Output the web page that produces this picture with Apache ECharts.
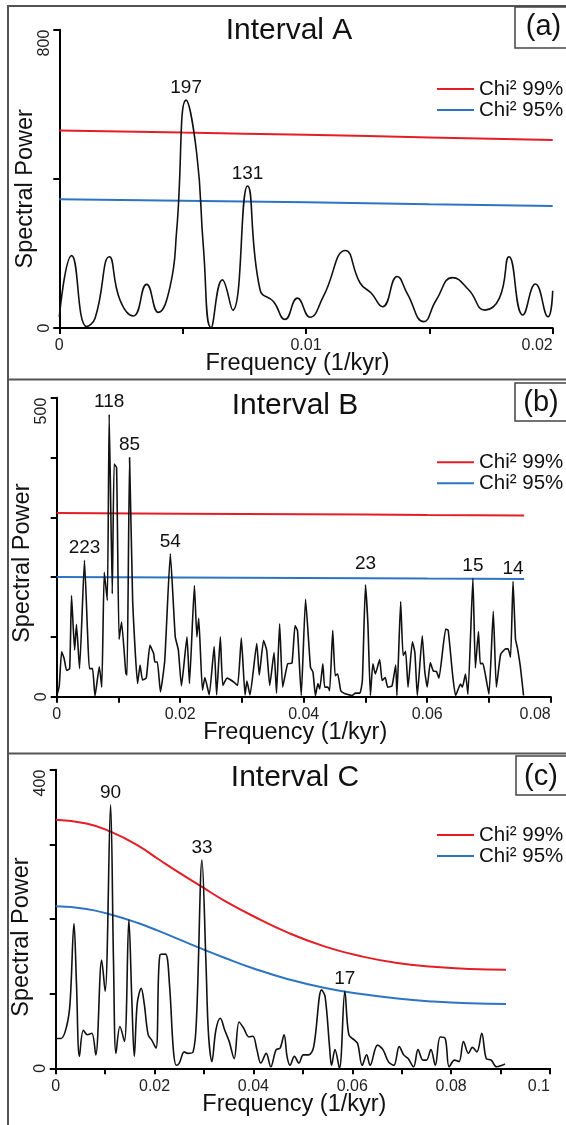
<!DOCTYPE html>
<html><head><meta charset="utf-8">
<script src="https://cdn.jsdelivr.net/npm/echarts@6/dist/echarts.min.js"></script>
<style>html,body{margin:0;padding:0;background:#fff}#c{width:566px;height:1125px}</style>
</head><body><div id="c"></div>
<script>
// ---------- DATA ----------
const titles = ['Interval A', 'Interval B', 'Interval C'];
const panelTags = ['(a)', '(b)', '(c)'];
const legendNames = ['Chi\u00b2 99%', 'Chi\u00b2 95%'];
const xName = 'Frequency (1/kyr)';
const yName = 'Spectral Power';

// Panel A spectrum
const freqA = [0,0.0005,0.00111,0.00145,0.00203,0.00246,0.003,0.00354,0.00401,0.00449,0.00476,0.00514,0.00557,0.00584,0.00615,0.00661,0.00703,0.00763,0.00814,0.00868,0.00915,0.00965,0.01016,0.0107,0.0116,0.0122,0.01265,0.0131,0.0137,0.0141,0.01477,0.01528,0.01594,0.0166,0.01725,0.01784,0.01823,0.01879,0.0193,0.01981,0.02];
const powA  = [30,194,4,26,191,75,32,117,42,111,263,611,468,218,1,129,48,381,102,71,23,80,29,84,208,120,93,57,138,93,17,75,135,102,48,80,191,35,118,30,100];
const chiFreqA = [0, 0.005, 0.01, 0.015, 0.02];
const chi99A = [530, 524, 518, 511, 504];
const chi95A = [345, 341, 337, 332, 327];
const peakFreqA = [0.00514, 0.00763];
const peakTextA = ['197', '131'];

// Panel B spectrum
const freqB = [0,0.0004,0.0008,0.0012,0.0016,0.0021,0.0024,0.0029,0.0032,0.0037,0.0045,0.005,0.0053,0.0058,0.0062,0.0069,0.0073,0.0077,0.0082,0.0085,0.009,0.0093,0.0097,0.0101,0.0105,0.0112,0.0114,0.0118,0.0123,0.0131,0.0135,0.0139,0.0145,0.0151,0.0157,0.0159,0.0163,0.0168,0.0175,0.0184,0.0192,0.0197,0.0202,0.0211,0.0215,0.0223,0.0227,0.023,0.0236,0.024,0.0247,0.0255,0.0259,0.0265,0.0269,0.0276,0.0286,0.0293,0.0299,0.0305,0.0308,0.0313,0.0324,0.0328,0.0335,0.034,0.0345,0.0352,0.0356,0.0361,0.0366,0.0374,0.0381,0.0386,0.039,0.0396,0.0403,0.0411,0.0415,0.0419,0.0423,0.0426,0.0431,0.0434,0.0439,0.0442,0.0447,0.0451,0.0455,0.046,0.0465,0.047,0.0478,0.0484,0.0491,0.0495,0.05,0.0504,0.0508,0.0512,0.0516,0.0523,0.0527,0.0532,0.0536,0.0543,0.0549,0.0551,0.0557,0.0561,0.0565,0.0569,0.0576,0.058,0.0584,0.0592,0.0596,0.06,0.0605,0.061,0.0615,0.0619,0.063,0.0634,0.0641,0.0646,0.0654,0.0657,0.0662,0.0666,0.0674,0.0678,0.0683,0.0686,0.069,0.0694,0.07,0.0707,0.0712,0.0719,0.0727,0.0731,0.0735,0.0739,0.0743,0.0746,0.0751,0.0756];
const powB  = [1,17,75,64,44,47,169,78,121,47,228,106,47,47,1,50,16,208,161,472,172,389,383,96,125,39,36,400,161,22,53,28,31,86,72,58,58,8,61,239,100,78,18,100,22,186,100,131,11,32,3,84,3,100,19,31,25,19,98,3,26,3,89,36,94,78,19,74,6,122,16,55,56,119,110,2,163,49,41,2,22,13,55,16,16,10,111,35,38,10,6,4,2,6,6,27,187,121,2,55,38,62,27,32,16,18,53,2,159,69,76,16,92,74,2,102,43,16,57,43,42,31,113,111,38,2,21,16,38,4,198,48,109,55,56,38,4,143,16,71,80,80,66,193,96,82,49,2];
const chiFreqB = [0, 0.02, 0.04, 0.06, 0.0757];
const chi99B = [307, 306, 305, 304, 303];
const chi95B = [200, 199.5, 198.5, 197.5, 197];
const peakFreqB = [0.0045, 0.0085, 0.0118, 0.0184, 0.05, 0.0674, 0.0739];
const peakTextB = ['223', '118', '85', '54', '23', '15', '14'];

// Panel C spectrum
const freqC = [0,0.0011,0.0022,0.0029,0.0037,0.0042,0.0048,0.0056,0.0064,0.0073,0.0081,0.0093,0.01,0.0111,0.0117,0.0122,0.013,0.0139,0.0148,0.0154,0.0159,0.0165,0.0173,0.0179,0.0187,0.0194,0.0203,0.0211,0.0222,0.023,0.0238,0.0244,0.025,0.026,0.0267,0.0278,0.0285,0.0296,0.0304,0.0309,0.0316,0.0324,0.0333,0.0342,0.0351,0.0361,0.0371,0.038,0.0391,0.0399,0.0407,0.0415,0.0426,0.0435,0.0446,0.0454,0.0462,0.0468,0.0474,0.0483,0.0492,0.0501,0.0512,0.0522,0.0538,0.0545,0.0554,0.0558,0.0565,0.0574,0.0585,0.0593,0.0604,0.0611,0.062,0.0629,0.0636,0.0651,0.0662,0.0673,0.0684,0.0695,0.0704,0.0713,0.0724,0.0733,0.0743,0.075,0.0759,0.0768,0.0778,0.0788,0.0796,0.0807,0.0816,0.0825,0.0835,0.0843,0.0852,0.0862,0.0871,0.0881,0.0892,0.0903,0.0909];
const powC  = [40,40,56,87,194,114,16,51,45,47,18,145,103,353,141,20,56,36,199,92,16,87,107,87,45,38,27,152,153,114,25,4,7,22,20,22,69,279,141,47,9,51,67,51,36,13,62,54,42,43,25,7,20,2,25,27,45,16,4,16,7,18,18,29,105,96,29,4,25,0,103,45,38,33,4,18,4,31,25,9,4,29,18,13,2,25,11,11,25,4,42,40,2,11,9,36,20,28,22,47,13,11,2,4,6];
const chiFreqC = [0,0.0062,0.0111,0.0165,0.0208,0.0252,0.0296,0.034,0.0399,0.0472,0.0545,0.0618,0.0691,0.0764,0.0838,0.0911];
const chi99C = [333,328,317,299,280,261,243,225,204,181,163,150,141,136,133,132];
const chi95C = [217,213.5,206,195,184,172,160,148.5,134,119,107.5,99.5,93.5,89.5,87,86];
const peakFreqC = [0.0111, 0.0296, 0.0585];
const peakTextC = ['90', '33', '17'];

// Axes
const xMax = [0.02, 0.08, 0.1];
const xStep = [0.005, 0.01, 0.01];
const xLabelVals = [[0, 0.01, 0.02], [0, 0.02, 0.04, 0.06, 0.08], [0, 0.02, 0.04, 0.06, 0.08, 0.1]];
const yMax = [800, 500, 400];
const yStep = [400, 100, 100];
const yLabelVals = [[0, 800], [0, 500], [0, 400]];

// ---------- STYLE / LAYOUT ----------
const FONT = "'Liberation Sans', Arial, Helvetica, sans-serif";
const grids = [
  {left: 59.3, top: 29.7, width: 493.4, height: 298.3},
  {left: 56.7, top: 397.7, width: 494, height: 299},
  {left: 55.7, top: 769.7, width: 494.3, height: 298.6}
];
const titlePos = [[289, 31], [295, 406], [295, 777.5]];
const tagPos = [[543.5, 27], [541, 403], [541, 776.5]];
const tagBox = [[515, 7, 70, 41], [515, 383, 70, 38], [516, 756, 70, 39]];
const legendTop = [78.5, 451.8, 824.5];
const yNamePad = [20, 32, 36];
const labelOffsets = {'23': [0, -9]};
const RED = '#e41e26', BLUE = '#2e74c2', INK = '#111';

const spectra = [[freqA, powA, peakFreqA, peakTextA], [freqB, powB, peakFreqB, peakTextB], [freqC, powC, peakFreqC, peakTextC]];
const chis = [[chiFreqA, chi99A, chi95A], [chiFreqB, chi99B, chi95B], [chiFreqC, chi99C, chi95C]];
const smoothness = [0.5, 0.15, 0.35];

function near(a, b) { return Math.abs(a - b) < 1e-9; }

const option = {
  animation: false,
  backgroundColor: '#fff',
  textStyle: {fontFamily: FONT},
  grid: grids.map(g => Object.assign({outerBoundsMode: 'none', containLabel: false}, g)),
  title: [],
  legend: [],
  xAxis: [],
  yAxis: [],
  series: [],
  graphic: []
};

for (let i = 0; i < 3; i++) {
  option.title.push({
    text: titles[i], left: titlePos[i][0], top: titlePos[i][1], textAlign: 'center', textVerticalAlign: 'middle', padding: 0,
    textStyle: {fontFamily: FONT, fontSize: 30, fontWeight: 'normal', color: INK}
  });
  option.title.push({
    text: panelTags[i], left: tagPos[i][0], top: tagPos[i][1], textAlign: 'center', textVerticalAlign: 'middle', padding: 0, z: 10,
    textStyle: {fontFamily: FONT, fontSize: 29, fontWeight: 'normal', color: INK}
  });
  option.legend.push({
    data: legendNames, orient: 'vertical', left: 437, top: legendTop[i], padding: 0, itemGap: 0,
    itemWidth: 37, itemHeight: 2, icon: 'rect', selectedMode: false,
    textStyle: {fontFamily: FONT, fontSize: 20.5, lineHeight: 21, color: INK}
  });
  const xl = xLabelVals[i], yl = yLabelVals[i];
  option.xAxis.push({
    type: 'value', gridIndex: i, min: 0, max: xMax[i], interval: xStep[i],
    name: xName, nameLocation: 'middle', nameGap: 24, nameMoveOverlap: false,
    nameTextStyle: {fontFamily: FONT, fontSize: 23.5, color: INK, padding: [0, 17, 0, 0]},
    axisLine: {onZero: false, lineStyle: {color: '#000', width: 2}},
    axisTick: {length: 6, lineStyle: {color: '#000', width: 2}},
    axisLabel: {fontFamily: FONT, fontSize: 16, color: '#222', margin: 10, alignMaxLabel: 'right', hideOverlap: false,
      formatter: v => xl.some(t => near(t, v)) ? String(+v.toFixed(4)) : ''},
    splitLine: {show: false}
  });
  option.yAxis.push({
    type: 'value', gridIndex: i, min: 0, max: yMax[i], interval: yStep[i],
    name: yName, nameLocation: 'middle', nameGap: 22, nameMoveOverlap: false,
    nameTextStyle: {fontFamily: FONT, fontSize: 23.5, color: INK, padding: [0, yNamePad[i], 0, 0]},
    axisLine: {onZero: false, lineStyle: {color: '#000', width: 2}},
    axisTick: {length: 6, lineStyle: {color: '#000', width: 2}},
    axisLabel: {fontFamily: FONT, fontSize: 16, color: '#222', margin: 7, rotate: 90, alignMaxLabel: 'right', hideOverlap: false,
      formatter: v => yl.some(t => near(t, v)) ? String(v) : ''},
    splitLine: {show: false}
  });
  const [cf, c99, c95] = chis[i];
  option.series.push({
    name: legendNames[0], type: 'line', xAxisIndex: i, yAxisIndex: i, smooth: 0.5, showSymbol: false,
    data: cf.map((f, k) => [f, c99[k]]), lineStyle: {color: RED, width: 2}, itemStyle: {color: RED}, z: 2, silent: true
  });
  option.series.push({
    name: legendNames[1], type: 'line', xAxisIndex: i, yAxisIndex: i, smooth: 0.5, showSymbol: false,
    data: cf.map((f, k) => [f, c95[k]]), lineStyle: {color: BLUE, width: 2}, itemStyle: {color: BLUE}, z: 2, silent: true
  });
  const [fr, pw, pf, pt] = spectra[i];
  const data = fr.map((f, k) => {
    const j = pf.findIndex(p => near(p, f));
    if (j < 0) return [f, pw[k]];
    return {value: [f, pw[k]], label: {show: true, formatter: pt[j], offset: labelOffsets[pt[j]] || [0, 0]}};
  });
  option.series.push({
    name: 'spectrum' + i, type: 'line', xAxisIndex: i, yAxisIndex: i, smooth: smoothness[i],
    showSymbol: true, symbol: 'circle', symbolSize: 0, data: data, silent: true,
    lineStyle: {color: INK, width: 1.6}, itemStyle: {color: INK}, z: 3,
    label: {show: false, position: 'top', distance: 3, fontFamily: FONT, fontSize: 19, color: INK}
  });
  const b = tagBox[i];
  option.graphic.push({type: 'rect', shape: {x: b[0], y: b[1], width: b[2], height: b[3]}, style: {fill: '#fff', stroke: '#444', lineWidth: 1.5}, z: 5});
}
// panel frame lines
option.graphic.push({type: 'polyline', shape: {points: [[8, 1125], [8, 6], [566, 6]]}, style: {stroke: '#555', lineWidth: 2, fill: null}});
option.graphic.push({type: 'line', shape: {x1: 8, y1: 379.5, x2: 566, y2: 379.5}, style: {stroke: '#555', lineWidth: 2}});
option.graphic.push({type: 'line', shape: {x1: 8, y1: 753.5, x2: 566, y2: 753.5}, style: {stroke: '#555', lineWidth: 2}});

const chart = echarts.init(document.getElementById('c'), null, {renderer: 'canvas'});
chart.setOption(option);
</script></body></html>
